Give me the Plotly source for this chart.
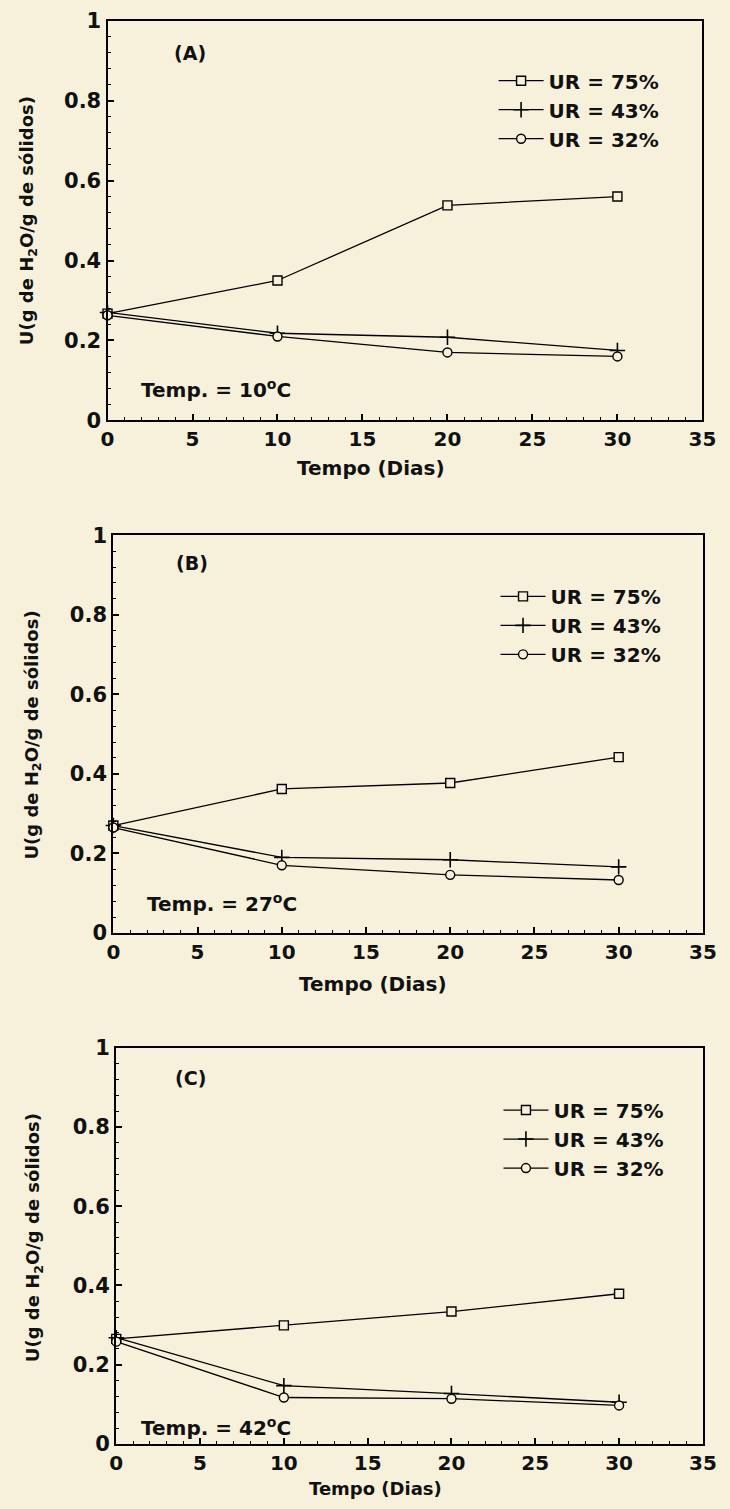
import plotly.graph_objects as go

# ---------------- data ----------------
dias = [0, 10, 20, 30]

# Panel A (10 °C)
a_ur75 = [0.267, 0.350, 0.538, 0.560]
a_ur43 = [0.270, 0.218, 0.208, 0.175]
a_ur32 = [0.263, 0.210, 0.170, 0.160]

# Panel B (27 °C)
b_ur75 = [0.270, 0.362, 0.377, 0.442]
b_ur43 = [0.270, 0.190, 0.184, 0.166]
b_ur32 = [0.265, 0.170, 0.146, 0.133]

# Panel C (42 °C)
c_ur75 = [0.265, 0.299, 0.334, 0.379]
c_ur43 = [0.268, 0.147, 0.127, 0.105]
c_ur32 = [0.258, 0.117, 0.114, 0.097]

series_names = ["UR = 75%", "UR = 43%", "UR = 32%"]
panel_labels = ["(A)", "(B)", "(C)"]
temp_labels = ["Temp. = 10<sup>o</sup>C", "Temp. = 27<sup>o</sup>C", "Temp. = 42<sup>o</sup>C"]
x_title = "Tempo (Dias)"
y_title = "U(g de H<sub>2</sub>O/g de sólidos)"
x_ticks = [0, 5, 10, 15, 20, 25, 30, 35]
y_ticks = [0, 0.2, 0.4, 0.6, 0.8, 1]
y_tick_text = ["0", "0.2", "0.4", "0.6", "0.8", "1"]

panels = [
    [a_ur75, a_ur43, a_ur32],
    [b_ur75, b_ur43, b_ur32],
    [c_ur75, c_ur43, c_ur32],
]

# ---------------- style ----------------
W, H = 730, 1509
BG = "#f7f1dc"
FONT = "DejaVu Sans"

def px_x(p):
    return p / W

def px_y(p):
    return 1 - p / H

# plot areas in figure pixels: (left, right, top, bottom)
boxes = [
    (103.5, 716.0, 8.8, 415.0),
    (109.5, 716.5, 531.7, 935.8),
    (112.5, 716.5, 1052.5, 1455.0),
]
legend_pos = [(501, 50), (503, 574), (506, 1096)]
label_pos = [(188, 41.3), (190, 560.1), (189, 1083.0)]
temp_pos = [(136, 383.5), (142, 905.3), (136, 1438.0)]
xtitle_pos = [(374.6, 463.7), (376.7, 987.5), (379.8, 1500.0)]
xtitle_size = [20, 20, 18]
ytitle_pos = [(21.3, 211.9), (26.3, 734.7), (27.4, 1245.4)]

markers = [
    dict(symbol="square", size=9, color=BG, line=dict(color="black", width=1.4)),
    dict(symbol="cross-thin", size=11, color="black", line=dict(color="black", width=1.6)),
    dict(symbol="circle", size=9, color=BG, line=dict(color="black", width=1.4)),
]

fig = go.Figure()

for i, series in enumerate(panels):
    suffix = "" if i == 0 else str(i + 1)
    leg = "legend" if i == 0 else f"legend{i + 1}"
    for j, vals in enumerate(series):
        fig.add_trace(go.Scatter(
            x=dias, y=vals, mode="lines+markers", name=series_names[j],
            line=dict(color="black", width=1.3),
            marker=markers[j], cliponaxis=False,
            xaxis="x" + suffix, yaxis="y" + suffix,
            legend=leg, legendgroup=f"g{i}{j}",
        ))

layout = dict(
    width=W, height=H,
    margin=dict(l=0, r=0, t=0, b=0),
    paper_bgcolor=BG, plot_bgcolor=BG,
    font=dict(family=FONT, size=16, color="#111", weight="bold"),
    showlegend=True,
)

annotations = []
for i, (l, r, t, b) in enumerate(boxes):
    suffix = "" if i == 0 else str(i + 1)
    xa = dict(
        domain=[px_x(l), px_x(r)], range=[0, 35], anchor="y" + suffix,
        tickvals=x_ticks, ticks="inside", ticklen=6, tickwidth=1.5, tickcolor="black",
        minor=dict(ticks="inside", ticklen=3, tickwidth=1, dtick=1, tickcolor="black"),
        showline=True, linecolor="black", linewidth=2.2, mirror=True,
        showgrid=False, zeroline=False, ticklabeloverflow="allow",
        tickfont=dict(size=20, family=FONT, weight="bold"),
    )
    ya = dict(
        domain=[px_y(b), px_y(t)], range=[0, 1], anchor="x" + suffix,
        tickvals=y_ticks, ticktext=y_tick_text, ticks="inside", ticklen=6, tickwidth=1.5,
        tickcolor="black",
        minor=dict(ticks="inside", ticklen=3, tickwidth=1, dtick=0.04, tickcolor="black"),
        showline=True, linecolor="black", linewidth=2.2, mirror=True,
        showgrid=False, zeroline=False, ticklabeloverflow="allow",
        tickfont=dict(size=21, family=FONT, weight="bold"),
    )
    layout["xaxis" + suffix] = xa
    layout["yaxis" + suffix] = ya

    lx, ly = legend_pos[i]
    layout["legend" if i == 0 else f"legend{i + 1}"] = dict(
        x=px_x(lx), y=px_y(ly), xanchor="left", yanchor="top",
        bgcolor="rgba(0,0,0,0)", borderwidth=0,
        font=dict(size=20, family=FONT, weight="bold"),
        itemwidth=45, tracegroupgap=0,
    )

    px_, py_ = label_pos[i]
    annotations.append(dict(
        x=px_x(px_), y=px_y(py_), xref="paper", yref="paper",
        text=panel_labels[i], showarrow=False, xanchor="center", yanchor="middle",
        font=dict(size=19, family=FONT, weight="bold"),
    ))
    tx, ty = temp_pos[i]
    annotations.append(dict(
        x=px_x(tx), y=px_y(ty), xref="paper", yref="paper",
        text=temp_labels[i], showarrow=False, xanchor="left", yanchor="middle",
        font=dict(size=20, family=FONT, weight="bold"),
    ))
    xtx, xty = xtitle_pos[i]
    annotations.append(dict(
        x=px_x(xtx), y=px_y(xty), xref="paper", yref="paper",
        text=x_title, showarrow=False, xanchor="center", yanchor="middle",
        font=dict(size=xtitle_size[i], family=FONT, weight="bold"),
    ))
    ytx, yty = ytitle_pos[i]
    annotations.append(dict(
        x=px_x(ytx), y=px_y(yty), xref="paper", yref="paper",
        text=y_title, showarrow=False, xanchor="center", yanchor="middle",
        textangle=-90,
        font=dict(size=18, family=FONT, weight="bold"),
    ))

layout["annotations"] = annotations
fig.update_layout(**layout)

fig.write_html(
    "out.html",
    config={"displayModeBar": False},
    post_script=(
        "document.body.style.margin='0px';"
        "document.body.style.background='" + BG + "';"
        "document.body.style.overflow='hidden';"
        "var gd=document.getElementById('{plot_id}');"
        "gd.style.position='absolute';gd.style.left='0px';gd.style.top='0px';"
    ),
)
